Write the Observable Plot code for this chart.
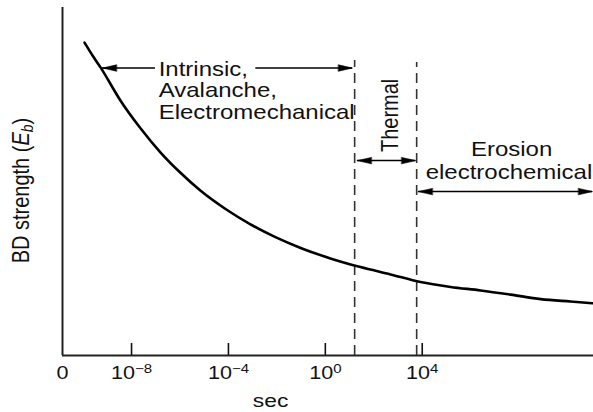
<!DOCTYPE html>
<html><head><meta charset="utf-8">
<script src="https://cdn.jsdelivr.net/npm/d3@7"></script>
<script src="https://cdn.jsdelivr.net/npm/@observablehq/plot@0.6"></script>
<style>
body{margin:0;background:#fff;}
</style>
</head><body><div id="chart"></div>
<script>
// x = log10(time in seconds); y = breakdown strength (arbitrary units)
const xMin = -10.85, xMax = 11.07;
const tickExponents = [-8, -4, 0, 4];
const originLabel = "0";
const xLabel = "sec";
const yLabel = "BD strength (Eb)";

const curveLogT = [-9.94, -9.61, -9.28, -8.46, -7.63, -6.81, -5.98, -5.16, -4.12, -3.09, -2.06, -1.02, 0.21, 1.45, 2.69, 3.93, 5.17, 6.41, 7.65, 8.89, 10.12, 11.07];
const curveEb   = [89.9, 86.2, 82.8, 73.3, 65.3, 58.4, 52.5, 47.4, 42.1, 37.7, 34.0, 30.9, 27.9, 25.4, 23.3, 21.1, 19.7, 18.7, 17.5, 16.2, 15.5, 15.0];

const dashLogT = [1.21, 3.77];
const dashTop  = [84.8, 84.2];

const arrowY  = [82.6, 82.6, 56.0, 47.1];
const arrowX1 = [-9.20, -2.87, 1.32, 3.84];
const arrowX2 = [-7.01, 1.12, 3.73, 11.03];
const arrowHeadLeft  = [true, false, true, true];
const arrowHeadRight = [false, true, true, true];

const mechText = "Intrinsic,\nAvalanche,\nElectromechanical";
const mechX = -6.88, mechY = 84.8;
const thermalText = "Thermal";
const thermalX = 3.02, thermalY = 69.0;
const erosionLines = ["Erosion", "electrochemical"];
const erosionX = [7.69, 7.58];
const erosionY = [57.2, 50.6];
const xLabelX = -2.26;
const yLabelY = 47.4;

const arrows = arrowY.map((y, i) => ({y, x1: arrowX1[i], x2: arrowX2[i], l: arrowHeadLeft[i], r: arrowHeadRight[i]}));
const heads = [];
arrows.forEach(a => {
  if (a.l) heads.push({x: a.x1, y: a.y, rot: -90});
  if (a.r) heads.push({x: a.x2, y: a.y, rot: 90});
});
const curve = curveLogT.map((x, i) => ({x, y: curveEb[i]}));
const dashes = dashLogT.map((x, i) => ({x, top: dashTop[i]}));
const axisTicks = [xMin, ...tickExponents];

const triangle = {
  draw(context, l) {
    const w = 3.2;
    context.moveTo(-w, 0);
    context.lineTo(0, -l);
    context.lineTo(w, 0);
    context.closePath();
  }
};

const font = "Liberation Sans, Arial, Helvetica, sans-serif";

const chart = Plot.plot({
  width: 593,
  height: 412,
  marginLeft: 62,
  marginRight: 0,
  marginTop: 7,
  marginBottom: 57,
  style: {fontFamily: font, background: "white", color: "#111", overflow: "visible"},
  x: {domain: [xMin, xMax], axis: null},
  y: {domain: [0, 100], axis: null},
  marks: [
    Plot.axisX(axisTicks, {
      tickSize: 0, tickPadding: 11, fontSize: 18, label: null,
      tickFormat: d => d === xMin ? originLabel : "10^" + d
    }),
    Plot.tickX(tickExponents, {x: d => d, insetTop: 336, stroke: "#111", strokeWidth: 1.6}),
    Plot.ruleY([0], {x1: xMin, x2: xMax, stroke: "#222", strokeWidth: 2}),
    Plot.ruleX([xMin], {y1: 0, y2: 100, stroke: "#222", strokeWidth: 2}),
    Plot.ruleX(dashes, {x: "x", y1: 0, y2: "top", stroke: "#333", strokeWidth: 1.6, strokeDasharray: "10,6"}),
    Plot.line(curve, {x: "x", y: "y", curve: "monotone-x", stroke: "#000", strokeWidth: 2.6}),
    Plot.ruleY(arrows, {y: "y", x1: "x1", x2: "x2", stroke: "#000", strokeWidth: 1.5}),
    Plot.vector(heads, {x: "x", y: "y", rotate: "rot", length: 14, anchor: "end", shape: triangle, fill: "#000", stroke: "#000", strokeWidth: 0.6}),
    Plot.text([mechText], {x: mechX, y: mechY, textAnchor: "start", lineAnchor: "top", lineHeight: 1.075, fontSize: 20, fill: "#111"}),
    Plot.text([thermalText], {x: thermalX, y: thermalY, rotate: -90, textAnchor: "middle", lineAnchor: "bottom", fontSize: 20, fill: "#111"}),
    Plot.text(erosionLines, {x: (d, i) => erosionX[i], y: (d, i) => erosionY[i], text: d => d, textAnchor: "middle", lineAnchor: "bottom", fontSize: 20, fill: "#111"}),
    Plot.text([xLabel], {x: xLabelX, frameAnchor: "bottom", dy: 51, lineAnchor: "bottom", fontSize: 19, fill: "#111"}),
    Plot.text([yLabel], {y: yLabelY, frameAnchor: "left", dx: -34, rotate: -90, textAnchor: "middle", lineAnchor: "bottom", fontSize: 20, fill: "#111"})
  ]
});

document.getElementById("chart").appendChild(chart);

d3.select(chart).selectAll("text").each(function() {
  const t = d3.select(this);
  const s = this.textContent;
  if (s.startsWith("10^")) {
    const e = s.slice(3).replace("-", "\u2212");
    t.text("10");
    t.append("tspan").attr("dy", "-6").attr("font-size", 12.5).text(e);
  } else if (s === yLabel) {
    t.text("BD strength (");
    t.append("tspan").attr("font-style", "italic").text("E");
    t.append("tspan").attr("font-style", "italic").attr("font-size", 14).attr("dy", 4).text("b");
    t.append("tspan").attr("dy", -4).text(")");
  }
  const tr = t.attr("transform") || "";
  t.attr("transform", tr.includes("rotate") ? tr.replace("rotate(", "scale(1.2,1) rotate(") : tr + " scale(1.2,1)");
});
</script>
</body></html>
